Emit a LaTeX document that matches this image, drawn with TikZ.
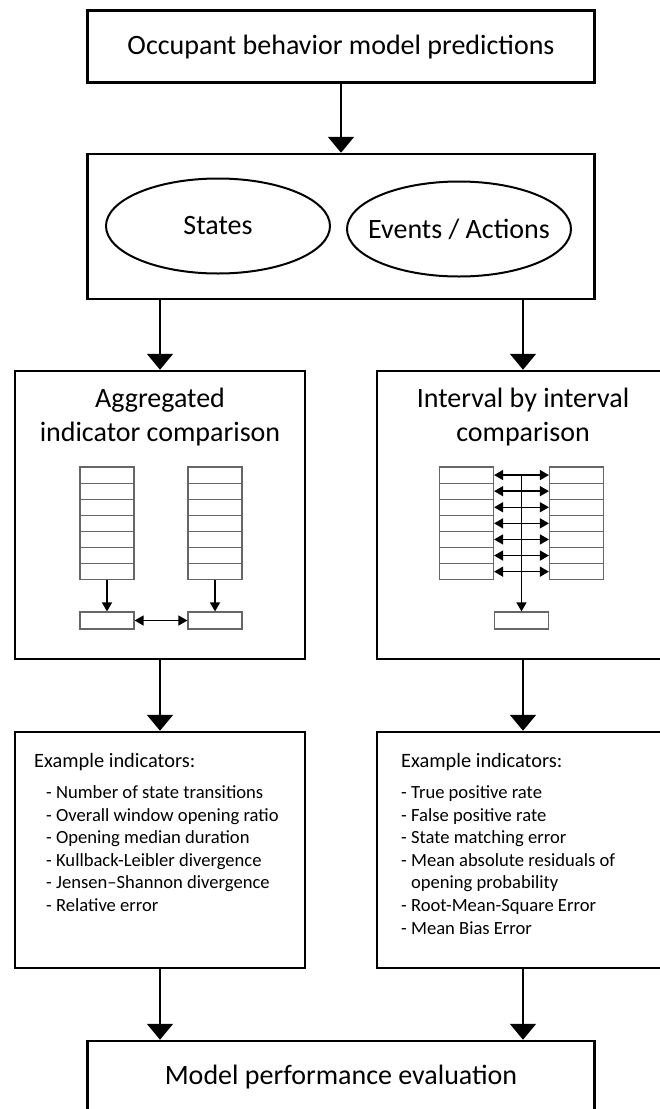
\documentclass[tikz,border=0pt]{standalone}
\usepackage{fontspec}
\setmainfont{Carlito}
\usetikzlibrary{arrows.meta}
\usetikzlibrary{shapes.geometric}

\begin{document}
\begin{tikzpicture} [x=1pt, y=-1pt,
  box/.style={draw, line width=2.5pt, inner sep=0pt},
  oval/.style={draw, ellipse, line width=2pt, minimum width=224pt, minimum height=95pt, inner sep=0pt},
  big/.style={font=\fontsize{28}{34}\selectfont},
  head/.style={font=\fontsize{20.4}{23}\selectfont, inner sep=0pt},
  item/.style={font=\fontsize{18.6}{22}\selectfont, inner sep=0pt},
  cell/.style={draw=black!60, line width=1.2pt, minimum width=54pt, minimum height=16.1pt, inner sep=0pt},
  flow/.style={line width=2pt, -{Triangle[width=26pt,length=16pt]}},
  link/.style={line width=1.5pt, -{Triangle[width=10pt,length=9pt]}},
  both/.style={line width=1.5pt, {Triangle[width=10pt,length=9pt]}-{Triangle[width=10pt,length=9pt]}}]

\useasboundingbox (0,0) rectangle (659,1109);

% boxes
\node[box, big, minimum width=507pt, minimum height=72pt] (pred) at (341,46.7) {Occupant behavior model predictions};
\node[box, minimum width=507pt, minimum height=145pt] (types) at (341,226.5) {};
\node[oval, label={[big]center:States}] (states) at (218,226) {};
\node[oval, label={[big]center:Events / Actions}] (events) at (459,229) {};
\node[box, minimum width=290pt, minimum height=288pt] (aggr) at (160,515) {};
\node[box, minimum width=292pt, minimum height=288pt] (ival) at (523,515) {};
\node[box, minimum width=290pt, minimum height=236pt] (aggrind) at (160,850) {};
\node[box, minimum width=292pt, minimum height=236pt] (ivalind) at (523,850) {};
\node[box, big, minimum width=507pt, minimum height=72pt] (perf) at (341,1077) {Model performance evaluation};

\node[big, align=center] (aggrtitle) at (160,417) {Aggregated\\indicator comparison};
\node[big, align=center] (ivaltitle) at (523,417) {Interval by interval\\comparison};

% main flow
\draw[flow] (pred) -- (types);
\draw[flow] (types.south -| aggr.north) -- (aggr.north);
\draw[flow] (types.south -| ival.north) -- (ival.north);
\draw[flow] (aggr) -- (aggrind);
\draw[flow] (ival) -- (ivalind);
\draw[flow] (aggrind.south) -- (aggrind.south |- perf.north);
\draw[flow] (ivalind.south) -- (ivalind.south |- perf.north);

% interval stacks
\foreach \i in {1,...,7} {
 \node[cell] (la\i) at (107,{467+16.1*(\i-0.5)}) {};
 \node[cell] (lb\i) at (215,{467+16.1*(\i-0.5)}) {};
 \node[cell] (ra\i) at (466.5,{467+16.1*(\i-0.5)}) {};
 \node[cell] (rb\i) at (576.5,{467+16.1*(\i-0.5)}) {};
};
\node[cell, minimum height=17pt] (lres) at (107,620.5) {};
\node[cell, minimum height=17pt] (mres) at (215,620.5) {};
\node[cell, minimum height=17pt] (rres) at (521.5,620.5) {};

\draw[link] (la7) -- (lres);
\draw[link] (lb7) -- (mres);
\draw[both] (lres) -- (mres);
\foreach \i in {1,...,7} {
 \draw[both] (ra\i) -- (rb\i);
};
\draw[link] (ra1.east -| rres.north) -- (rres);

% indicator lists
\node[head, anchor=base west] (aggrhead) at (34,767.7) {Example indicators:};
\foreach \txt [count=\n] in {- Number of state transitions, - Overall window opening ratio, - Opening median duration, - Kullback-Leibler divergence, - Jensen--Shannon divergence, - Relative error} {
 \node[item, anchor=base west] (aggritem\n) at (46,{798.5+22.6*(\n-1)}) {\txt};
};
\node[head, anchor=base west] (ivalhead) at (401,767.7) {Example indicators:};
\foreach \txt [count=\n] in {- True positive rate, - False positive rate, - State matching error, - Mean absolute residuals of, \hphantom{- }opening probability, - Root-Mean-Square Error, - Mean Bias Error} {
 \node[item, anchor=base west] (ivalitem\n) at (401,{798.5+22.6*(\n-1)}) {\txt};
};
\end{tikzpicture}
\end{document}
